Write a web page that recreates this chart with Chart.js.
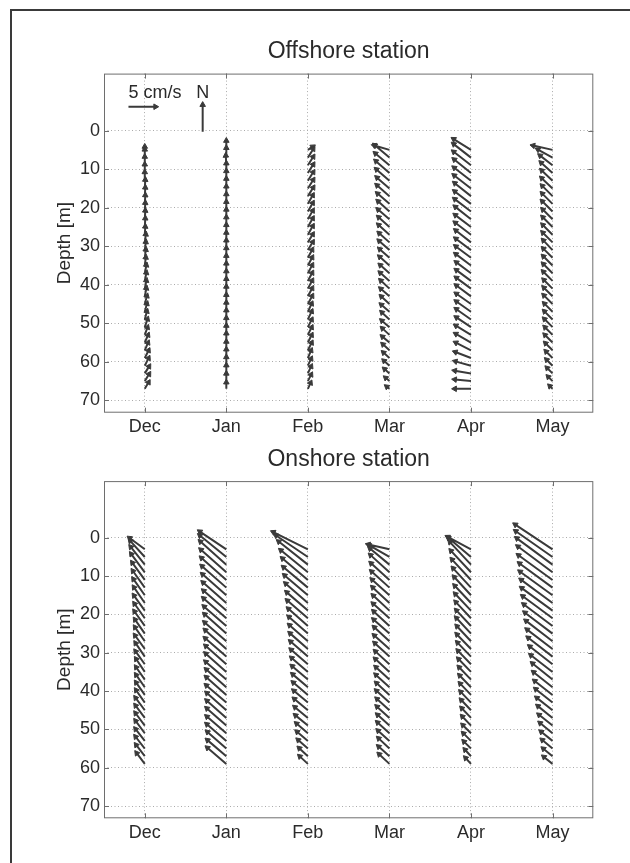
<!DOCTYPE html>
<html>
<head>
<meta charset="utf-8">
<script src="https://cdn.jsdelivr.net/npm/chart.js@4"></script>
<style>
  body { margin: 0; background: #fff; }
  #page { position: relative; width: 630px; height: 863px; overflow: hidden; }
  #frame { position: absolute; left: 10px; top: 9px; width: 660px; height: 900px;
           border-left: 2px solid #3a3a3a; border-top: 2px solid #3a3a3a; }
  canvas { position: absolute; left: 0; }
</style>
</head>
<body>
<div id="page">
  <div id="frame"></div>
  <canvas id="offshore" width="630" height="440" style="top:0"></canvas>
  <canvas id="onshore" width="630" height="423" style="top:440px"></canvas>
</div>
<script>
// months on the x axis (index 0..5), depth ticks on the y axis
const months = ["Dec", "Jan", "Feb", "Mar", "Apr", "May"];
const depthTicks = [0, 10, 20, 30, 40, 50, 60, 70];

// bin depths [m]
const offshoreDepth = [5, 7, 9, 11, 13, 15, 17, 19, 21, 23, 25, 27, 29, 31, 33, 35,
  37, 39, 41, 43, 45, 47, 49, 51, 53, 55, 57, 59, 61, 63, 65, 67];
const onshoreDepth = [3, 5, 7, 9, 11, 13, 15, 17, 19, 21, 23, 25, 27, 29, 31, 33, 35,
  37, 39, 41, 43, 45, 47, 49, 51, 53, 55, 57, 59];

// offshore station, east (u) and north (v) velocity [cm/s]
const offDecU = [0.0,0.0,0.0,0.0,0.0,0.1,0.1,0.1,0.1,0.1,0.1,0.1,0.2,0.2,0.2,0.2,0.3,0.3,0.3,0.3,0.4,0.4,0.4,0.5,0.5,0.6,0.6,0.7,0.7,0.8,0.8,0.7];
const offDecV = [0.6,1.5,1.6,1.6,1.6,1.6,1.6,1.6,1.6,1.6,1.6,1.5,1.5,1.5,1.5,1.5,1.5,1.5,1.5,1.5,1.5,1.5,1.5,1.5,1.4,1.4,1.4,1.4,1.4,1.3,1.3,1.2];
const offJanU = [0.0,0.0,-0.1,0.0,0.0,0.0,0.0,0.0,0.0,0.0,0.0,0.0,0.0,0.0,0.0,0.0,0.0,0.0,0.0,0.0,0.0,0.0,0.0,0.0,0.0,0.0,0.0,0.0,0.0,0.0,0.0,0.0];
const offJanV = [1.7,1.8,1.8,1.8,1.8,1.8,1.8,1.8,1.8,1.8,1.8,1.8,1.8,1.8,1.8,1.8,1.8,1.8,1.8,1.8,1.7,1.7,1.7,1.7,1.7,1.7,1.6,1.6,1.6,1.5,1.4,1.2];
const offFebU = [0.9,1.0,1.0,1.0,1.0,1.0,1.0,0.9,0.9,0.9,0.9,0.9,0.9,0.9,0.8,0.8,0.8,0.8,0.8,0.8,0.8,0.7,0.7,0.7,0.7,0.7,0.7,0.6,0.6,0.6,0.6,0.5];
const offFebV = [0.6,1.6,1.6,1.6,1.6,1.6,1.6,1.6,1.6,1.6,1.6,1.6,1.5,1.5,1.5,1.5,1.5,1.5,1.5,1.5,1.5,1.5,1.5,1.4,1.4,1.4,1.4,1.4,1.3,1.3,1.2,1.1];
const offMarU = [-2.8,-2.7,-2.6,-2.5,-2.4,-2.3,-2.3,-2.2,-2.1,-2.1,-2.0,-2.0,-1.9,-1.9,-1.8,-1.8,-1.7,-1.7,-1.6,-1.6,-1.5,-1.5,-1.4,-1.4,-1.3,-1.3,-1.2,-1.1,-1.0,-0.9,-0.7,-0.5];
const offMarV = [0.8,2.3,2.2,2.2,2.1,2.0,2.0,1.9,1.9,1.8,1.8,1.8,1.7,1.7,1.6,1.6,1.5,1.5,1.5,1.4,1.4,1.3,1.3,1.2,1.2,1.1,1.1,1.0,0.9,0.8,0.6,0.4];
const offAprU = [-3.2,-3.2,-3.2,-3.1,-3.1,-3.1,-3.0,-3.0,-3.0,-2.9,-2.9,-2.9,-2.8,-2.8,-2.8,-2.8,-2.7,-2.7,-2.7,-2.7,-2.7,-2.7,-2.7,-2.7,-2.8,-2.8,-2.8,-2.9,-2.9,-3.0,-3.0,-3.0];
const offAprV = [2.0,2.5,2.5,2.5,2.4,2.4,2.4,2.3,2.3,2.3,2.2,2.2,2.2,2.1,2.1,2.1,2.0,2.0,2.0,2.0,1.9,1.9,1.9,1.8,1.7,1.6,1.4,1.1,0.8,0.5,0.3,0.0];
const offMayU = [-3.6,-2.7,-2.3,-2.1,-2.0,-2.0,-1.9,-1.9,-1.9,-1.8,-1.8,-1.8,-1.8,-1.7,-1.7,-1.7,-1.7,-1.7,-1.6,-1.6,-1.6,-1.5,-1.5,-1.5,-1.4,-1.4,-1.3,-1.2,-1.1,-1.0,-0.8,-0.5];
const offMayV = [0.8,1.5,1.8,1.9,1.9,1.9,1.9,1.9,1.9,1.8,1.8,1.8,1.8,1.8,1.7,1.7,1.7,1.7,1.6,1.6,1.6,1.5,1.5,1.5,1.4,1.4,1.3,1.2,1.1,1.0,0.8,0.5];

// onshore station, east (u) and north (v) velocity [cm/s]
const onDecU = [-2.8,-2.7,-2.6,-2.5,-2.3,-2.2,-2.1,-2.0,-2.0,-1.9,-1.9,-1.8,-1.8,-1.8,-1.7,-1.7,-1.6,-1.6,-1.6,-1.6,-1.6,-1.7,-1.7,-1.7,-1.7,-1.7,-1.7,-1.6,-1.5];
const onDecV = [2.1,3.0,3.3,3.4,3.2,3.1,3.0,2.9,2.8,2.7,2.7,2.6,2.6,2.5,2.5,2.4,2.4,2.3,2.3,2.3,2.3,2.3,2.3,2.3,2.3,2.2,2.2,2.1,2.0];
const onJanU = [-4.9,-4.9,-4.8,-4.7,-4.6,-4.5,-4.4,-4.3,-4.2,-4.2,-4.1,-4.0,-4.0,-3.9,-3.9,-3.8,-3.8,-3.8,-3.7,-3.7,-3.7,-3.6,-3.6,-3.6,-3.6,-3.6,-3.5,-3.5,-3.5];
const onJanV = [3.3,4.0,4.3,4.2,4.1,4.0,3.9,3.8,3.7,3.7,3.6,3.6,3.5,3.5,3.4,3.4,3.4,3.3,3.3,3.3,3.2,3.2,3.2,3.2,3.1,3.1,3.1,3.0,3.0];
const onFebU = [-6.4,-5.9,-5.4,-5.0,-4.7,-4.5,-4.3,-4.1,-3.9,-3.8,-3.6,-3.5,-3.4,-3.3,-3.2,-3.1,-3.0,-2.9,-2.8,-2.7,-2.6,-2.5,-2.4,-2.3,-2.1,-2.0,-1.8,-1.6,-1.5];
const onFebV = [3.2,4.0,4.3,4.1,4.0,3.8,3.7,3.6,3.4,3.3,3.2,3.1,3.0,2.9,2.8,2.7,2.6,2.5,2.4,2.3,2.2,2.1,2.0,1.9,1.8,1.7,1.6,1.5,1.4];
const onMarU = [-3.9,-3.8,-3.6,-3.5,-3.4,-3.3,-3.2,-3.1,-3.0,-3.0,-2.9,-2.9,-2.8,-2.8,-2.7,-2.6,-2.6,-2.5,-2.5,-2.4,-2.4,-2.3,-2.3,-2.2,-2.2,-2.1,-2.0,-2.0,-1.9];
const onMarV = [0.9,2.2,3.0,3.2,3.1,3.0,2.9,2.9,2.8,2.7,2.7,2.6,2.6,2.5,2.5,2.4,2.4,2.3,2.3,2.2,2.2,2.1,2.1,2.0,2.0,1.9,1.9,1.8,1.8];
const onAprU = [-4.3,-4.2,-3.9,-3.7,-3.5,-3.3,-3.1,-3.0,-2.9,-2.8,-2.7,-2.7,-2.6,-2.6,-2.5,-2.4,-2.3,-2.2,-2.1,-2.0,-1.9,-1.8,-1.7,-1.6,-1.5,-1.4,-1.3,-1.1,-1.0];
const onAprV = [2.3,3.6,4.2,4.0,3.8,3.6,3.4,3.2,3.1,3.0,2.9,2.9,2.8,2.7,2.6,2.5,2.4,2.3,2.2,2.1,2.0,1.9,1.8,1.7,1.5,1.4,1.3,1.2,1.1];
const onMayU = [-6.9,-6.8,-6.6,-6.4,-6.3,-6.1,-6.0,-5.8,-5.7,-5.5,-5.3,-5.1,-4.9,-4.7,-4.5,-4.2,-4.0,-3.7,-3.5,-3.3,-3.1,-2.9,-2.7,-2.5,-2.3,-2.1,-1.9,-1.7,-1.6];
const onMayV = [4.6,4.8,4.9,4.8,4.6,4.5,4.4,4.3,4.2,4.1,4.0,3.9,3.8,3.6,3.5,3.3,3.1,3.0,2.8,2.6,2.5,2.3,2.2,2.0,1.9,1.7,1.6,1.4,1.3];

// scale arrows: 5 cm/s reference and north arrow (tail positions in axis units)
const refSpeed = 5;
const refArrowAt = [-0.2, -6.2];
const northArrowAt = [0.71, 0.3];

// arrow length per cm/s in axis units (month index, metres)
const KX = 0.0662;
const KY = 1.40;
const ARROW = "#3a3a3a";
const TEXT = "#2a2a2a";

Chart.defaults.font.family = "'Liberation Sans', Arial, sans-serif";
Chart.defaults.color = TEXT;

// tail, head, gap for each arrow
function arrowPoints(month, depths, u, v) {
  const pts = [];
  depths.forEach((d, i) => {
    pts.push({ x: month, y: d });
    pts.push({ x: month + u[i] * KX, y: d - v[i] * KY });
    pts.push({ x: month, y: null });
  });
  return pts;
}

function headRotation(c) {
  const i = c.dataIndex;
  if (i % 3 !== 1) return 0;
  const data = c.dataset.data;
  const xs = c.chart.scales.x, ys = c.chart.scales.y;
  const dx = xs.getPixelForValue(data[i].x) - xs.getPixelForValue(data[i - 1].x);
  const dy = ys.getPixelForValue(data[i].y) - ys.getPixelForValue(data[i - 1].y);
  return Math.atan2(dx, -dy) * 180 / Math.PI;
}

function quiver(points) {
  return {
    data: points,
    showLine: true,
    spanGaps: false,
    borderColor: ARROW,
    borderWidth: 2,
    pointStyle: "triangle",
    pointRadius: c => (c.dataIndex % 3 === 1 ? 3.2 : 0),
    pointHoverRadius: 0,
    pointRotation: headRotation,
    pointBackgroundColor: ARROW,
    pointBorderColor: ARROW,
    pointBorderWidth: 1,
  };
}

// plot box with inward ticks, MATLAB style
const boxPlugin = {
  id: "box",
  afterDatasetsDraw(chart) {
    const { ctx, chartArea: a, scales: { x, y } } = chart;
    ctx.save();
    ctx.strokeStyle = "#6e6e6e";
    ctx.lineWidth = 1;
    ctx.strokeRect(a.left + 0.5, a.top + 0.5, a.right - a.left - 1, a.bottom - a.top - 1);
    ctx.beginPath();
    x.ticks.forEach(t => {
      const px = Math.round(x.getPixelForValue(t.value)) + 0.5;
      ctx.moveTo(px, a.bottom); ctx.lineTo(px, a.bottom - 5);
      ctx.moveTo(px, a.top); ctx.lineTo(px, a.top + 5);
    });
    y.ticks.forEach(t => {
      const py = Math.round(y.getPixelForValue(t.value)) + 0.5;
      ctx.moveTo(a.left, py); ctx.lineTo(a.left + 5, py);
      ctx.moveTo(a.right, py); ctx.lineTo(a.right - 5, py);
    });
    ctx.stroke();
    ctx.restore();
  },
};

// labels for the scale arrows
const refLabels = {
  id: "refLabels",
  afterDatasetsDraw(chart) {
    const { ctx, scales: { x, y } } = chart;
    ctx.save();
    ctx.font = "18px 'Liberation Sans', Arial, sans-serif";
    ctx.fillStyle = TEXT;
    ctx.textBaseline = "middle";
    ctx.textAlign = "left";
    ctx.fillText(refSpeed + " cm/s", x.getPixelForValue(refArrowAt[0]), y.getPixelForValue(refArrowAt[1]) - 14);
    ctx.textAlign = "center";
    ctx.fillText("N", x.getPixelForValue(northArrowAt[0]), y.getPixelForValue(northArrowAt[1] - refSpeed * KY) - 12);
    ctx.restore();
  },
};

function makeOptions(title, titlePad, xHeight) {
  const grid = { color: "#ababab", lineWidth: 1, drawTicks: false };
  const border = { display: false, dash: [1, 2.5] };
  return {
    responsive: false,
    animation: false,
    events: [],
    layout: { padding: { left: 0, right: 36.7, top: 0, bottom: 0 } },
    plugins: {
      legend: { display: false },
      tooltip: { enabled: false },
      title: {
        display: true,
        text: title,
        fullSize: false,
        color: TEXT,
        font: { size: 23, weight: "normal" },
        padding: titlePad,
      },
    },
    scales: {
      x: {
        type: "linear",
        min: -0.5,
        max: 5.5,
        afterBuildTicks: s => { s.ticks = months.map((m, i) => ({ value: i })); },
        afterFit: s => { s.height = xHeight; },
        ticks: { callback: v => months[v], font: { size: 18 }, color: TEXT, padding: 4, autoSkip: false, maxRotation: 0 },
        grid: grid,
        border: border,
      },
      y: {
        type: "linear",
        reverse: true,
        min: -14.8,
        max: 73.2,
        afterBuildTicks: s => { s.ticks = depthTicks.map(v => ({ value: v })); },
        afterFit: s => { s.width = 104; },
        ticks: { font: { size: 18 }, color: TEXT, padding: 4 },
        grid: grid,
        border: border,
        title: { display: true, text: "Depth [m]", color: TEXT, font: { size: 19 }, padding: { top: 53, bottom: 0 } },
      },
    },
  };
}

new Chart(document.getElementById("offshore"), {
  type: "scatter",
  data: {
    datasets: [
      quiver(arrowPoints(0, offshoreDepth, offDecU, offDecV)),
      quiver(arrowPoints(1, offshoreDepth, offJanU, offJanV)),
      quiver(arrowPoints(2, offshoreDepth, offFebU, offFebV)),
      quiver(arrowPoints(3, offshoreDepth, offMarU, offMarV)),
      quiver(arrowPoints(4, offshoreDepth, offAprU, offAprV)),
      quiver(arrowPoints(5, offshoreDepth, offMayU, offMayV)),
      quiver([
        { x: refArrowAt[0], y: refArrowAt[1] },
        { x: refArrowAt[0] + refSpeed * KX, y: refArrowAt[1] },
        { x: refArrowAt[0], y: null },
        { x: northArrowAt[0], y: northArrowAt[1] },
        { x: northArrowAt[0], y: northArrowAt[1] - refSpeed * KY },
        { x: northArrowAt[0], y: null },
      ]),
    ],
  },
  options: makeOptions("Offshore station", { top: 38, bottom: 8 }, 27.3),
  plugins: [boxPlugin, refLabels],
});

new Chart(document.getElementById("onshore"), {
  type: "scatter",
  data: {
    datasets: [
      quiver(arrowPoints(0, onshoreDepth, onDecU, onDecV)),
      quiver(arrowPoints(1, onshoreDepth, onJanU, onJanV)),
      quiver(arrowPoints(2, onshoreDepth, onFebU, onFebV)),
      quiver(arrowPoints(3, onshoreDepth, onMarU, onMarV)),
      quiver(arrowPoints(4, onshoreDepth, onAprU, onAprV)),
      quiver(arrowPoints(5, onshoreDepth, onMayU, onMayV)),
    ],
  },
  options: makeOptions("Onshore station", { top: 5.5, bottom: 8 }, 44.7),
  plugins: [boxPlugin],
});
</script>
</body>
</html>
